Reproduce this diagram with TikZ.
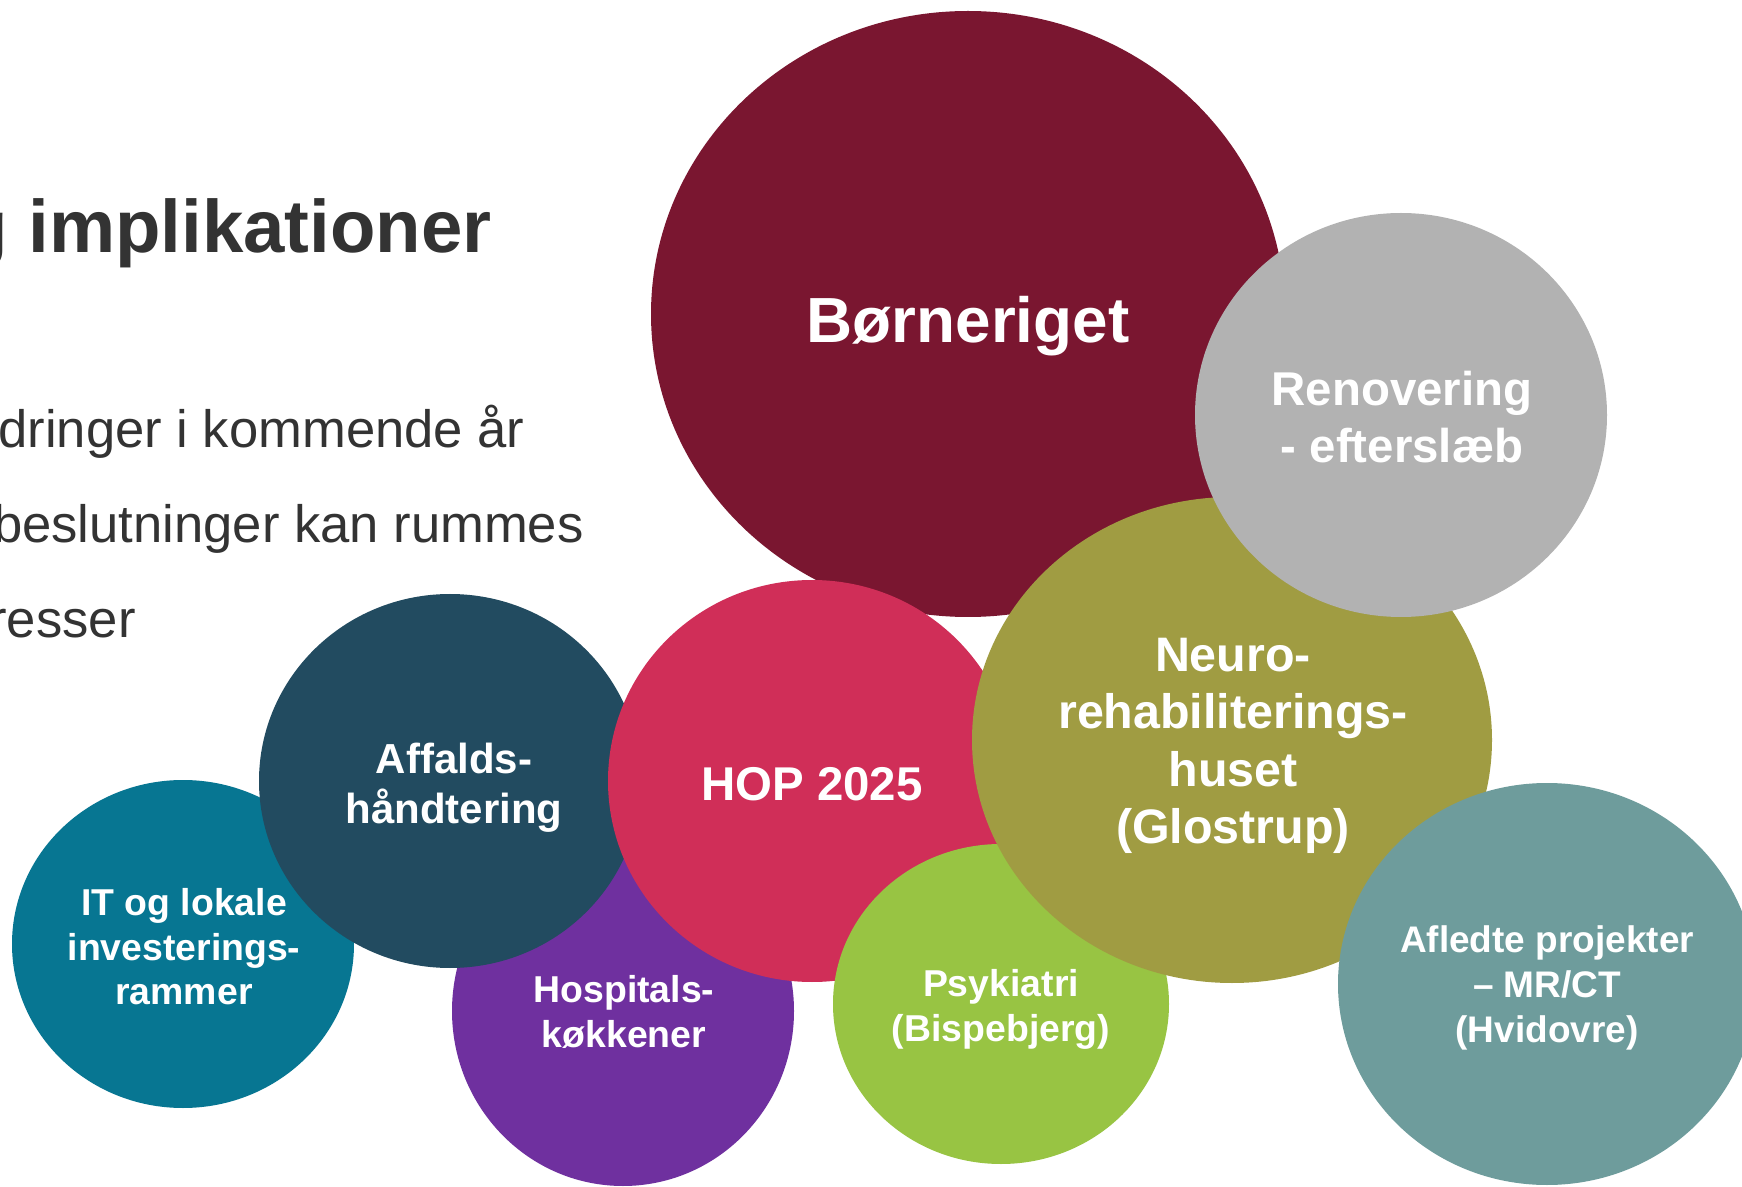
\documentclass[tikz,border=0pt]{standalone}
\usepackage{fontspec}
\setmainfont{Liberation Sans}
\definecolor{cBorn}{HTML}{7A1630}
\definecolor{cReno}{HTML}{B2B2B2}
\definecolor{cNeuro}{HTML}{A09C42}
\definecolor{cHop}{HTML}{D02E58}
\definecolor{cAff}{HTML}{224B60}
\definecolor{cIT}{HTML}{077692}
\definecolor{cHosp}{HTML}{6F309F}
\definecolor{cPsyk}{HTML}{98C443}
\definecolor{cAfl}{HTML}{6E9C9C}
\definecolor{cText}{HTML}{333333}
\tikzset{
  lbl/.style={text=white, font=\bfseries, align=center, inner sep=0pt},
  bodytxt/.style={text=cText, inner sep=0pt, anchor=base east, font=\fontsize{26.3}{31}\selectfont},
}
\begin{document}
\begin{tikzpicture}[x=0.5pt,y=-0.5pt]
\useasboundingbox (0,0) rectangle (1742,1187);
\clip (0,0) rectangle (1742,1187);
\fill[white] (0,0) rectangle (1742,1187);
% title and body text
\node[text=cText, inner sep=0pt, anchor=base west, font=\bfseries\fontsize{37.2}{44}\selectfont] (title) at (-38,253) {g implikationer};
\node[bodytxt] (l1) at (525,448) {dringer i kommende år};
\node[bodytxt] (l2) at (584,543) {beslutninger kan rummes};
\node[bodytxt] (l3) at (136,638) {resser};
% bubbles
\fill[cBorn] (968,314) ellipse [x radius=317, y radius=303];
\fill[cIT] (183,944) ellipse [x radius=171, y radius=164];
\fill[cHosp] (623,1011) ellipse [x radius=171, y radius=175];
\fill[cAff] (450,781) ellipse [x radius=191, y radius=187];
\fill[cHop] (812,781) ellipse [x radius=204, y radius=201];
\fill[cPsyk] (1001,1004) ellipse [x radius=168, y radius=160];
\fill[cNeuro] (1232,740) ellipse [x radius=260, y radius=243];
\fill[cReno] (1401,415) ellipse [x radius=206, y radius=202];
\fill[cAfl] (1547,984) ellipse [x radius=209, y radius=201];
% labels
\node[lbl, font=\bfseries\fontsize{31.9}{38}\selectfont] (born) at (968,326) {Børneriget};
\node[lbl, font=\bfseries\fontsize{23.7}{28.5}\selectfont] (reno) at (1402,417) {Renovering\\- efterslæb};
\node[lbl, font=\bfseries\fontsize{24.2}{28.7}\selectfont] (neuro) at (1233,746) {Neuro-\\rehabiliterings-\\huset\\(Glostrup)};
\node[lbl, font=\bfseries\fontsize{23.7}{28.5}\selectfont] (hop) at (812,784) {HOP 2025};
\node[lbl, font=\bfseries\fontsize{21}{25}\selectfont] (aff) at (454,788) {Affalds-\\håndtering};
\node[lbl, font=\bfseries\fontsize{18.7}{22.3}\selectfont] (it) at (184,947) {IT og lokale\\investerings-\\rammer};
\node[lbl, font=\bfseries\fontsize{18.7}{22.3}\selectfont] (hosp) at (624,1012) {Hospitals-\\køkkener};
\node[lbl, font=\bfseries\fontsize{18.7}{22.5}\selectfont] (psyk) at (1001,1009) {Psykiatri\\(Bispebjerg)};
\node[lbl, font=\bfseries\fontsize{18.5}{22.3}\selectfont] (afl) at (1547,988) {Afledte projekter\\– MR/CT\\(Hvidovre)};
\end{tikzpicture}
\end{document}
